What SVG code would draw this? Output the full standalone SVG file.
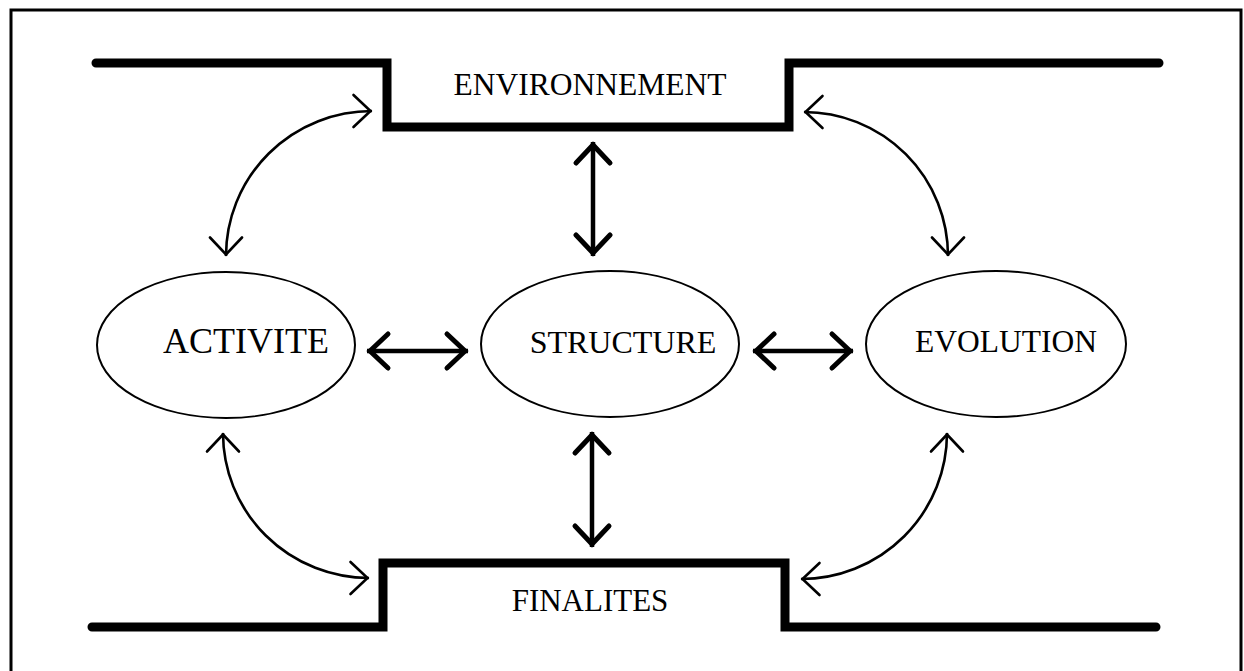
<svg xmlns="http://www.w3.org/2000/svg" width="1244" height="671" viewBox="0 0 1244 671">
<style>
.frame{fill:none;stroke:#000;stroke-width:3}
.band{fill:none;stroke:#000;stroke-width:9;stroke-linecap:round;stroke-linejoin:miter}
.node ellipse{fill:#fff;stroke:#000;stroke-width:2}
text{font-family:"Liberation Serif","Times New Roman",serif;fill:#000;text-anchor:middle}
.thin{fill:none;stroke:#000;stroke-width:2.6}
.thick{fill:none;stroke:#000;stroke-width:4.5}
</style>
<defs>
<marker id="hThin" markerUnits="userSpaceOnUse" orient="auto-start-reverse" refX="1.5" refY="0" overflow="visible" markerWidth="40" markerHeight="40">
<path d="M-17,-16 L0,0 L-17,16" fill="none" stroke="#000" stroke-width="2.6" stroke-linecap="round"/>
</marker>
<marker id="hThick" markerUnits="userSpaceOnUse" orient="auto-start-reverse" refX="3" refY="0" overflow="visible" markerWidth="40" markerHeight="40">
<path d="M-18,-17 L0,0 L-18,17" fill="none" stroke="#000" stroke-width="5" stroke-linecap="round"/>
</marker>
</defs>
<rect width="1244" height="671" fill="#fff"/>
<path class="frame" d="M11,671 V10 H1241 V671"/>
<g id="environnement">
<path class="band" d="M96,63 H387 V127 H789 V63 H1159"/>
<text x="590" y="95" font-size="31.5">ENVIRONNEMENT</text>
</g>
<g id="finalites">
<path class="band" d="M92,627 H383 V563 H785 V627 H1156"/>
<text x="590" y="611" font-size="31">FINALITES</text>
</g>
<g id="activite" class="node">
<ellipse cx="226" cy="345" rx="129" ry="73"/>
<text x="246" y="353" font-size="36">ACTIVITE</text>
</g>
<g id="structure" class="node">
<ellipse cx="610" cy="344" rx="129" ry="73"/>
<text x="623" y="353" font-size="32">STRUCTURE</text>
</g>
<g id="evolution" class="node">
<ellipse cx="996" cy="344" rx="130" ry="73"/>
<text x="1006" y="352" font-size="31.5">EVOLUTION</text>
</g>
<g id="connectors">
<path class="thin" d="M226,256 A146,145 0 0 1 372,111" marker-start="url(#hThin)" marker-end="url(#hThin)"/>
<path class="thin" d="M804,112 A144,144 0 0 1 948,256" marker-start="url(#hThin)" marker-end="url(#hThin)"/>
<path class="thin" d="M223,433 A146,145 0 0 0 369,578" marker-start="url(#hThin)" marker-end="url(#hThin)"/>
<path class="thin" d="M801,579 A146,146 0 0 0 947,433" marker-start="url(#hThin)" marker-end="url(#hThin)"/>
<path class="thick" d="M593,142 V256" marker-start="url(#hThick)" marker-end="url(#hThick)"/>
<path class="thick" d="M592,432 V547" marker-start="url(#hThick)" marker-end="url(#hThick)"/>
<path class="thick" d="M367,351 H468" marker-start="url(#hThick)" marker-end="url(#hThick)"/>
<path class="thick" d="M753,351 H853" marker-start="url(#hThick)" marker-end="url(#hThick)"/>
</g>
</svg>
